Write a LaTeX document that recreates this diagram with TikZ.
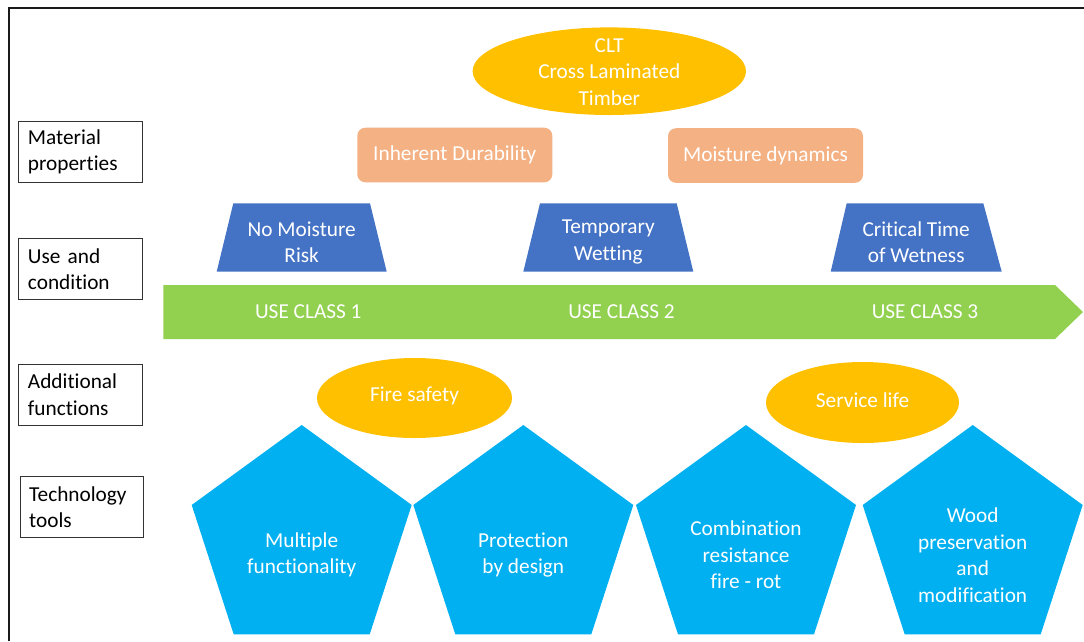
\documentclass[tikz,border=0pt]{standalone}
\usepackage{fontspec}
\setmainfont{Carlito}[Ligatures=NoCommon]
\usetikzlibrary{shapes.geometric}

\definecolor{cltyellow}{HTML}{FFC000}
\definecolor{propsand}{HTML}{F4B183}
\definecolor{condblue}{HTML}{4472C4}
\definecolor{classgreen}{HTML}{92D050}
\definecolor{toolcyan}{HTML}{00B0F0}
\definecolor{frame}{HTML}{1A1A1A}

\tikzset{
  every node/.append style={font=\fontsize{21.3}{26.5}\selectfont, inner sep=0pt},
  rowlabel/.style={draw=black!80, line width=0.9pt, minimum width=123.4pt,
    minimum height=61pt, text width=105pt, align=left, anchor=north west},
  propbox/.style={fill=propsand, rounded corners=8pt, minimum width=195pt,
    minimum height=54.6pt, text=white},
  whitetext/.style={text=white, align=center},
}

\begin{document}
\begin{tikzpicture}[x=1pt, y=-1pt]
\useasboundingbox (0,0) rectangle (1084,641);

% frame of the figure (top and left edges)
\draw[frame, line width=1.8pt] (9,641) -- (9,8.3) -- (1084,8.3);

% row labels
\node[rowlabel] (lmat)  at (18.3,120.7) {Material\\properties};
\node[rowlabel] (luse)  at (18.3,238.3) {Use and\\condition};
\node[rowlabel] (ladd)  at (18.3,363.5) {Additional\\functions};
\node[rowlabel] (ltech) at (19.5,476)   {Technology\\tools};

% top ellipse
\fill[cltyellow] (609.3,71.2) ellipse [x radius=136.7, y radius=43.8];
\node[whitetext] (clt) at (609.3,72) {CLT\\Cross Laminated\\Timber};

% material properties
\node[propbox] (dur) at (454.8,155) {Inherent Durability};
\node[propbox] (moist) at (765.5,155.5) {Moisture dynamics};

% use conditions (trapezoids)
\fill[condblue] (233.3,203.3) -- (370,203.3) -- (386.7,271.7) -- (216.7,271.7) -- cycle;
\fill[condblue] (540,203.3) -- (676.7,203.3) -- (693.3,271.7) -- (523.3,271.7) -- cycle;
\fill[condblue] (846.7,203.3) -- (983.3,203.3) -- (1001.7,271.7) -- (830.7,271.7) -- cycle;
\node[whitetext] (nomoist) at (301.7,242) {No Moisture\\Risk};
\node[whitetext] (tempwet) at (608.3,242) {Temporary\\Wetting};
\node[whitetext] (crittime) at (916.2,242) {Critical Time\\of Wetness};

% use class arrow
\fill[classgreen] (163.3,285) -- (1055,285) -- (1083,312) -- (1055,339) -- (163.3,339) -- cycle;
\node[whitetext] (uc1) at (308.3,312) {USE CLASS 1};
\node[whitetext] (uc2) at (621.5,312) {USE CLASS 2};
\node[whitetext] (uc3) at (925,312) {USE CLASS 3};

% technology tools (regular pentagons, circumradius 115.7)
\foreach \cx in {301.7, 523.3, 746, 972.7} {
  \fill[toolcyan] (\cx,425) -- ++(110,80) -- ++(-42,129.3) -- ++(-136,0) -- ++(-42,-129.3) -- cycle;
}
\node[whitetext] (multi) at (301.7,555) {Multiple\\functionality};
\node[whitetext] (protect) at (523.3,555) {Protection\\by design};
\node[whitetext] (combi) at (746,555) {Combination\\resistance\\fire - rot};
\node[whitetext] (wood) at (972.7,555) {Wood\\preservation\\and\\modification};

% additional functions
\fill[cltyellow] (414.5,398) ellipse [x radius=97.5, y radius=40];
\fill[cltyellow] (862.5,402.5) ellipse [x radius=96.5, y radius=40.5];
\node[whitetext] (fire) at (414.5,396) {Fire safety};
\node[whitetext] (service) at (862.5,400) {Service life};

\end{tikzpicture}
\end{document}
